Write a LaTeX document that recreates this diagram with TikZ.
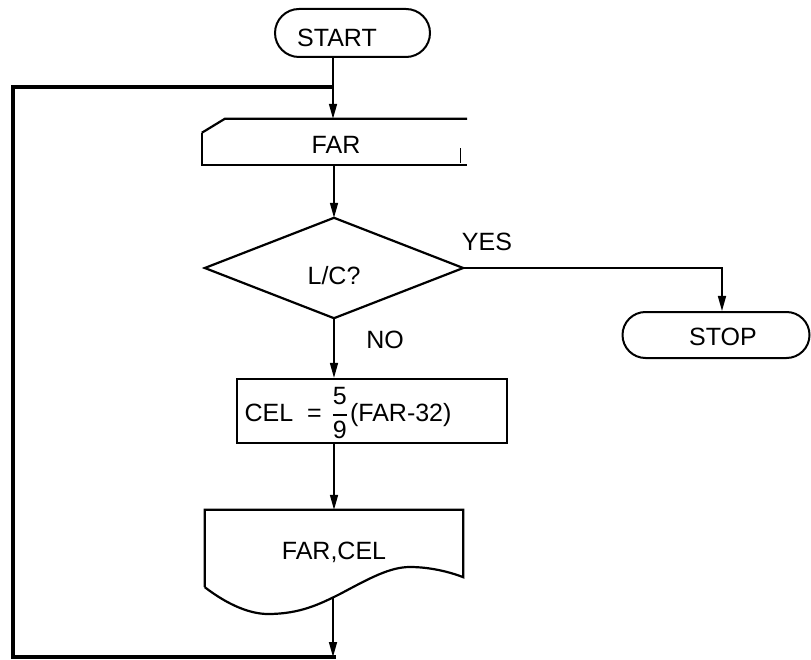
\documentclass[tikz,border=0pt]{standalone}
\usepackage{amsmath}
\usepackage{fontspec}
\setmainfont{Liberation Sans}
\usetikzlibrary{arrows.meta,shapes.misc}

\begin{document}
\begin{tikzpicture}[x=1pt,y=-1pt,
  every node/.style={font=\fontsize{25}{29}\selectfont, inner sep=0pt},
  term/.style={rounded rectangle, draw, line width=2pt},
  frame/.style={line width=2.2pt},
  link/.style={line width=1.6pt},
  arr/.style={link,-{Triangle[length=15pt,width=8pt]}},
  loopline/.style={line width=3.2pt, line join=miter}]

\useasboundingbox (0,0) rectangle (811,660);

% terminals
\node[term, minimum width=155pt, minimum height=48pt] (start) at (352.5,33) {};
\node (startlbl) at (337,38) {START};
\node[term, minimum width=187pt, minimum height=46pt] (stop) at (716,335) {};
\node (stoplbl) at (723,337) {STOP};

% input card
\node[minimum width=265pt, minimum height=46pt] (far) at (334.5,142) {};
\node (farlbl) at (336,145) {FAR};
\draw[frame] ([yshift=-14pt]far.north west) -- ([xshift=23pt]far.north west) -- (far.north east);
\draw[frame] ([yshift=-14pt]far.north west) -- (far.south west) -- (far.south east);
\draw[line width=0.8pt] ([xshift=-7pt,yshift=2pt]far.south east) -- ++(0pt,15pt);

% decision
\node[minimum width=258pt, minimum height=100pt] (dec) at (334,268) {};
\draw[frame] (dec.north) -- (dec.east) -- (dec.south) -- (dec.west) -- cycle;
\node (q) at (334,276) {L/C?};
\node (yes) at (487,242) {YES};
\node (no) at (385,340) {NO};

% process
\node[draw, frame, minimum width=270pt, minimum height=64pt] (cel) at (372,411) {};
\node (formula) at (348,413)
  {CEL\hspace{14pt}=\hspace{10pt}$\genfrac{}{}{1.3pt}{0}{\mbox{5}}{\mbox{9}}$\hspace{2pt}(FAR-32)};

% output document
\node[minimum width=258pt, minimum height=77pt] (doc) at (334,548.5) {};
\node (doclbl) at (334,552) {FAR,CEL};
\draw[frame] (doc.south west) -- (doc.north west) -- (doc.north east) -- ([yshift=10pt]doc.south east)
  .. controls (450,572) and (430,567) .. (410,567)
  .. controls (390,567) and (370,578) .. (340,594)
  .. controls (320,604) and (300,614) .. (268,614)
  .. controls (250,614) and (228,605) .. (doc.south west);

% loop geometry
\coordinate (join) at (333,87);
\coordinate (docout) at (333,598);
\coordinate (bottom) at (333,657);
\coordinate (lb) at (13,657);
\coordinate (lt) at (13,87);

% connectors
\draw[arr] (start.south -| join) -- (join |- far.north);
\draw[arr] (far.south -| dec.north) -- (dec.north);
\draw[arr] (dec.east) -| ([xshift=6pt]stop.north);
\draw[arr] (dec.south) -- (dec.south |- cel.north);
\draw[arr] (cel.south -| doc.north) -- (doc.north);
\draw[arr] (docout) -- (bottom);
\draw[loopline] ([xshift=3pt]bottom) -- (lb) -- (lt) -- (join);
\end{tikzpicture}
\end{document}
